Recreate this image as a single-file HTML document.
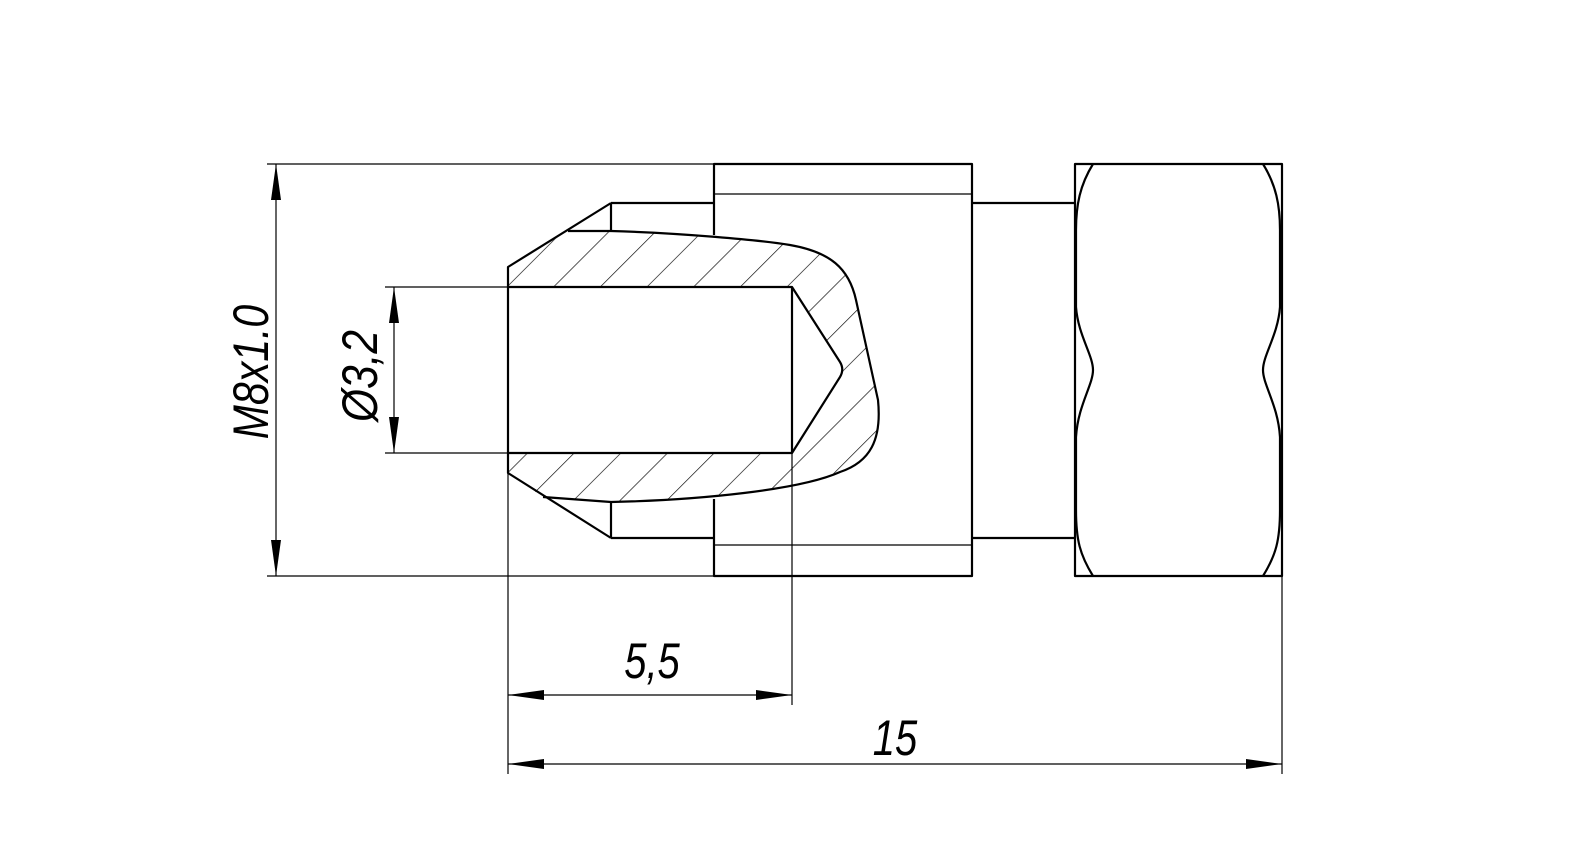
<!DOCTYPE html>
<html><head><meta charset="utf-8"><style>
html,body{margin:0;padding:0;background:#fff;}
svg{display:block;}
text{font-family:"Liberation Sans",sans-serif;font-style:italic;fill:#000;}
</style></head><body>
<svg width="1595" height="852" viewBox="0 0 1595 852" xmlns="http://www.w3.org/2000/svg">
<defs>
<pattern id="h" patternUnits="userSpaceOnUse" width="33" height="10" patternTransform="rotate(45)">
<line x1="0" y1="0" x2="0" y2="10" stroke="#000" stroke-width="1.3"/>
</pattern>
<marker id="a" viewBox="0 0 36 10" refX="36" refY="5" markerWidth="36" markerHeight="10" markerUnits="userSpaceOnUse" orient="auto-start-reverse">
<path d="M0,0 L36,5 L0,10 Z" fill="#000"/>
</marker>
</defs>
<g fill="none" stroke="#000" stroke-width="1.2">
<line x1="267" y1="164" x2="714" y2="164"/>
<line x1="267" y1="576" x2="714" y2="576"/>
<line x1="385" y1="287" x2="508" y2="287"/>
<line x1="385" y1="453" x2="508" y2="453"/>
<line x1="508" y1="473" x2="508" y2="774"/>
<line x1="792" y1="453" x2="792" y2="705"/>
<line x1="1282" y1="576" x2="1282" y2="774"/>
<line x1="714" y1="194" x2="972" y2="194"/>
<line x1="714" y1="545" x2="972" y2="545"/>
<line x1="276" y1="164" x2="276" y2="576" marker-start="url(#a)" marker-end="url(#a)"/>
<line x1="394" y1="287" x2="394" y2="453" marker-start="url(#a)" marker-end="url(#a)"/>
<line x1="508" y1="695" x2="792" y2="695" marker-start="url(#a)" marker-end="url(#a)"/>
<line x1="508" y1="764" x2="1282" y2="764" marker-start="url(#a)" marker-end="url(#a)"/>
</g>
<path fill="url(#h)" fill-rule="evenodd" d="M568,231 L611,231 C680,233 760,240 790,245 C830,252 849,268 856,300 L878,400 C882,440 870,462 840,472 C800,490 700,500 611,502 L543,497 L508,473 L508,267 Z M508,287 L792,287 L843,365 L843,375 L792,453 L508,453 Z"/>
<g fill="none" stroke="#000" stroke-width="2.2" stroke-linejoin="round">
<path d="M568,231 L611,231 C680,233 760,240 790,245 C830,252 849,268 856,300 L878,400 C882,440 870,462 840,472 C800,490 700,500 611,502 L543,497"/>
<path d="M611,203 L508,267 L508,473 L611,538"/>
<path d="M508,287 L792,287 L840,362 C843,367 843,372 840,377 L792,453 L508,453"/>
<line x1="792" y1="287" x2="792" y2="453"/>
<line x1="611" y1="203" x2="611" y2="231"/>
<line x1="611" y1="502" x2="611" y2="538"/>
<line x1="611" y1="203" x2="714" y2="203"/>
<line x1="611" y1="538" x2="714" y2="538"/>
<path d="M714,235 L714,164 L972,164 L972,576 L714,576 L714,499"/>
<line x1="972" y1="203" x2="1075" y2="203"/>
<line x1="972" y1="538" x2="1075" y2="538"/>
<rect x="1075" y="164" width="207" height="412"/>
<path d="M1093,164 C1080,185 1076,205 1076,230 L1076,307 C1078,335 1093,355 1093,370 C1093,385 1078,405 1076,437 L1076,510 C1076,540 1080,555 1093,576"/>
<path d="M1263,164 C1276,185 1280,205 1280,230 L1280,307 C1278,335 1263,355 1263,370 C1263,385 1278,405 1280,437 L1280,510 C1280,540 1276,555 1263,576"/>
</g>
<text x="0" y="0" font-size="50" transform="translate(268,372) rotate(-90) scale(0.82,1)" text-anchor="middle">M8x1.0</text>
<text x="0" y="0" font-size="50" transform="translate(377,376) rotate(-90) scale(0.85,1)" text-anchor="middle">Ø3,2</text>
<text x="0" y="0" font-size="50" transform="translate(652,678) scale(0.8,1)" text-anchor="middle">5,5</text>
<text x="0" y="0" font-size="50" transform="translate(895,755) scale(0.8,1)" text-anchor="middle">15</text>
</svg>
</body></html>
